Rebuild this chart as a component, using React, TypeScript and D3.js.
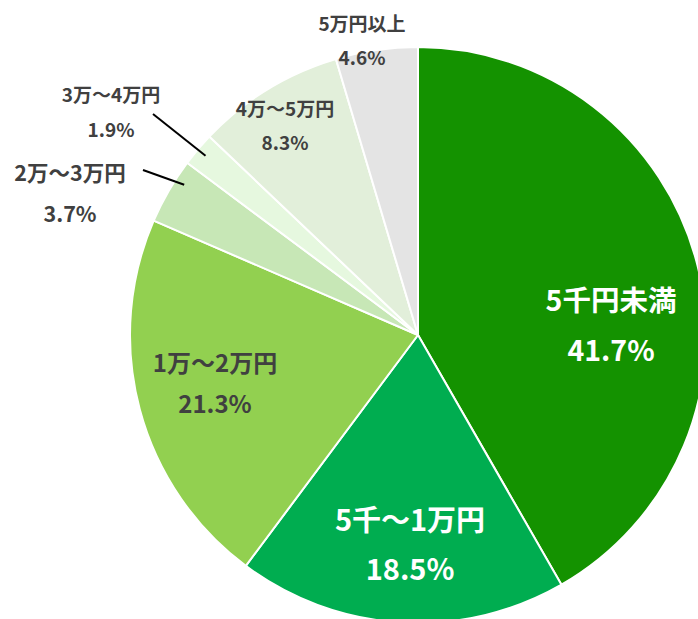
import React from "react";
import * as d3 from "d3";

const categories = ["5千円未満", "5千～1万円", "1万～2万円", "2万～3万円", "3万～4万円", "4万～5万円", "5万円以上"];
const values = [41.7, 18.5, 21.3, 3.7, 1.9, 8.3, 4.6];
const valueLabels = ["41.7%", "18.5%", "21.3%", "3.7%", "1.9%", "8.3%", "4.6%"];

const colors = ["#149200", "#00AD50", "#92D050", "#C7E7B6", "#E6F8DF", "#E2EFDA", "#E4E4E4"];

// label layout (styling only)
const labelLayout = [
  { x: 611, y1: 311, y2: 361, size: 28.5, fill: "#ffffff" },
  { x: 410, y1: 531, y2: 580, size: 29, fill: "#ffffff" },
  { x: 215, y1: 372, y2: 413, size: 24, fill: "#404040" },
  { x: 70, y1: 181, y2: 222, size: 21.5, fill: "#404040", leader: { x: 143, y: 170, frac: 0.7 } },
  { x: 111, y1: 102, y2: 137, size: 19, fill: "#404040", leader: { x: 153, y: 114, frac: 0.5 } },
  { x: 285, y1: 116, y2: 150, size: 19, fill: "#404040" },
  { x: 362, y1: 31, y2: 65, size: 19, fill: "#404040" },
];

const W = 698;
const H = 619;
const cx = 418;
const cy = 335;
const R = 288;

export default function App() {
  const pie = d3.pie<number>().sort(null).value((d) => d);
  const arcs = pie(values);
  const arcGen = d3.arc<d3.PieArcDatum<number>>().innerRadius(0).outerRadius(R);
  const font = "'Noto Sans CJK JP', 'Noto Sans', sans-serif";

  return (
    <svg
      width={W}
      height={H}
      style={{ position: "absolute", left: 0, top: 0, background: "#ffffff" }}
    >
      <g transform={`translate(${cx},${cy})`}>
        {arcs.map((a, i) => (
          <path key={i} d={arcGen(a) || ""} fill={colors[i]} stroke="#ffffff" strokeWidth={2} strokeLinejoin="round" />
        ))}
      </g>
      {arcs.map((a, i) => {
        const L = labelLayout[i];
        if (!L.leader) return null;
        const ang = a.startAngle + (a.endAngle - a.startAngle) * L.leader.frac;
        const rr = R * 0.965;
        const ex = cx + Math.sin(ang) * rr;
        const ey = cy - Math.cos(ang) * rr;
        return <line key={"l" + i} x1={L.leader.x} y1={L.leader.y} x2={ex} y2={ey} stroke="#000000" strokeWidth={2} />;
      })}
      {categories.map((c, i) => {
        const L = labelLayout[i];
        return (
          <g key={"t" + i} fontFamily={font} fontWeight={700} fill={L.fill} textAnchor="middle" fontSize={L.size}>
            <text x={L.x} y={L.y1}>{c}</text>
            <text x={L.x} y={L.y2}>{valueLabels[i]}</text>
          </g>
        );
      })}
    </svg>
  );
}
